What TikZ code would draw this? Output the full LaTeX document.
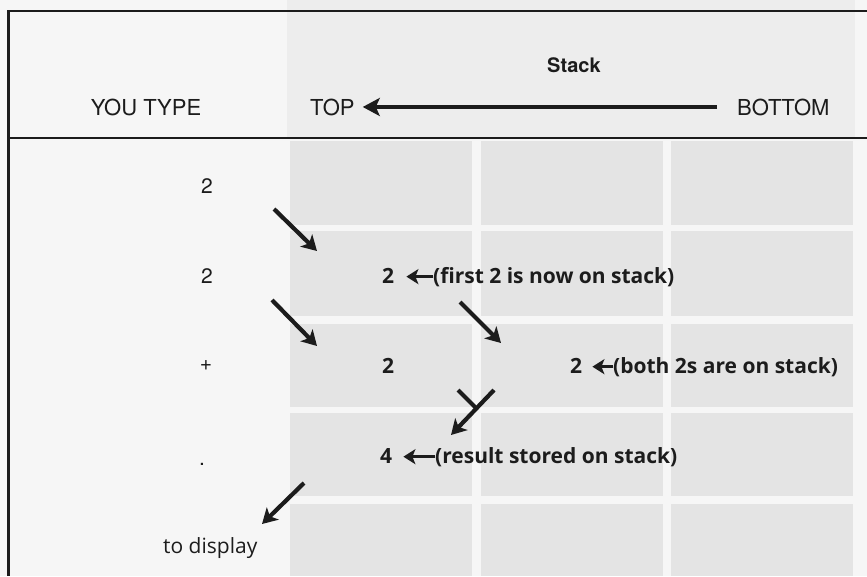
\documentclass[tikz,border=0pt]{standalone}
\usepackage{fontspec}
\setsansfont{TeX Gyre Heros}
\newfontfamily\humanist{Open Sans}
\usetikzlibrary{arrows.meta}

\definecolor{paper}{HTML}{F6F6F6}
\definecolor{cellgray}{HTML}{E4E4E4}
\definecolor{headgray}{HTML}{EDEDED}
\definecolor{ink}{HTML}{1C1C1C}

\begin{document}
\begin{tikzpicture}[x=1pt,y=-1pt,
  rule/.style={line width=1.6pt, draw=ink},
  hdr/.style={font=\fontsize{22}{24}\selectfont\sffamily, inner sep=0pt, text=ink},
  hdrbold/.style={font=\fontsize{20}{24}\selectfont\sffamily\bfseries, inner sep=0pt, text=ink},
  typed/.style={font=\fontsize{21}{24}\selectfont\sffamily, inner sep=0pt, text=ink},
  disp/.style={font=\fontsize{21}{24}\selectfont\humanist, inner sep=0pt, text=ink},
  val/.style={font=\fontsize{21}{24}\selectfont\humanist\bfseries, inner sep=0pt, text=ink},
  flow/.style={line width=4.2pt, draw=ink, -{Stealth[length=15pt,width=17pt,inset=4pt]}},
  pointer/.style={line width=3.2pt, draw=ink, -{Stealth[length=12pt,width=15pt,inset=3pt]}},
  longarrow/.style={line width=4pt, draw=ink, -{Stealth[length=17pt,width=18pt,inset=4pt]}},
]
% page and stack area
\fill[paper] (0,0) rectangle (867,576);
\useasboundingbox (0,0) rectangle (867,576);
\fill[headgray] (287,0) rectangle (855,138);
\foreach \xa/\xb in {290/472,481/663,671/853}
  \foreach \ya/\yb in {141/225,231/316,324/407,413/496,504/576}
    \fill[cellgray] (\xa,\ya) rectangle (\xb,\yb);

% frame rules
\draw[rule] (8,11) -- (867,11);
\draw[rule] (8,138) -- (867,138);
\draw[line width=3pt, draw=ink] (8,10) -- (8,576);

% header
\node[hdr, anchor=base] (you) at (146,115) {YOU TYPE};
\node[hdrbold, anchor=base] (stack) at (574,72) {Stack};
\node[hdr, anchor=base west] (top) at (310,115) {TOP};
\node[hdr, anchor=base west] (bottom) at (737,115) {BOTTOM};
\draw[longarrow] ([xshift=-20pt]bottom.west) -- ([xshift=8pt]top.east);

% keys typed
\node[typed, anchor=base] (k1) at (207,193) {2};
\node[typed, anchor=base] (k2) at (207,283) {2};
\node[typed] (k3) at (206,366) {+};
\node[typed, anchor=base] (k4) at (202,465) {.};
\node[disp, anchor=base west] (out) at (163,553) {to display};

% stack contents
\node[val, anchor=base west] (s2) at (382,283) {2};
\node[val, anchor=base west] (n2) at (433,283) {(first 2 is now on stack)};
\draw[pointer] (n2.west) -- ([xshift=12pt]s2.east |- n2.west);

\node[val, anchor=base west] (s3a) at (382,373) {2};
\node[val, anchor=base west] (s3b) at (570,373) {2};
\node[val, anchor=base west] (n3) at (613,373) {(both 2s are on stack)};
\draw[pointer] (n3.west) -- ([xshift=10pt]s3b.east |- n3.west);

\node[val, anchor=base west] (s4) at (380,463) {4};
\node[val, anchor=base west] (n4) at (435,463) {(result stored on stack)};
\draw[pointer] (n4.west) -- ([xshift=11pt]s4.east |- n4.west);

% movement arrows
\coordinate (a1s) at (274,209); \coordinate (a1e) at (317,251);
\coordinate (a2s) at (272,300); \coordinate (a2e) at (317,346);
\coordinate (a3s) at (460,302); \coordinate (a3e) at (501,343);
\coordinate (ys)  at (458,390); \coordinate (yj)  at (476,408);
\coordinate (ya)  at (494,390); \coordinate (ye)  at (451,435);
\coordinate (a5s) at (304,483); \coordinate (a5e) at (262,524);
\draw[flow] (a1s) -- (a1e);
\draw[flow] (a2s) -- (a2e);
\draw[flow] (a3s) -- (a3e);
\draw[line width=4.2pt, draw=ink] (ys) -- (yj);
\draw[flow] (ya) -- (ye);
\draw[flow] (a5s) -- (a5e);
\end{tikzpicture}
\end{document}
